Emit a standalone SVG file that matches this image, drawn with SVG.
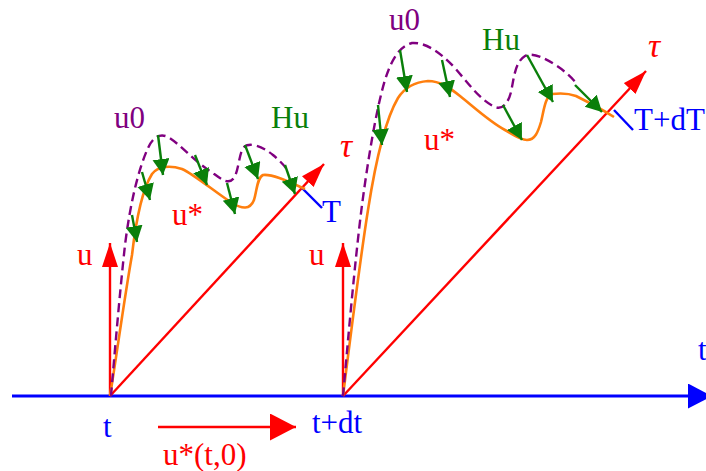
<svg xmlns="http://www.w3.org/2000/svg" width="706" height="471" viewBox="0 0 706 471">
<style>
text{font-family:"Liberation Serif","Times New Roman",serif;font-size:31px}
.red{fill:#ff0000}.blue{fill:#0000ff}.pur{fill:#800080}.grn{fill:#0a7f0a}
.tau{font-size:34px;font-style:italic}
.ax{stroke:#0000ff;stroke-width:2.8;fill:none}
.rl{stroke:#ff0000;stroke-width:2.4;fill:none}
.tick{stroke:#0000ff;stroke-width:2.4;fill:none}
.ustar{stroke:#ff7f0e;stroke-width:2.6;fill:none;stroke-linejoin:round}
.u0{stroke:#800080;stroke-width:2.4;fill:none;stroke-dasharray:9,5}
.ga{stroke:#0a7f0a;stroke-width:2.4;fill:none}
</style>
<defs>
<marker id="hb" markerUnits="userSpaceOnUse" markerWidth="26" markerHeight="26" refX="24" refY="12.5" orient="auto"><path d="M0,0 L24,12.5 L0,25 Z" fill="#0000ff"/></marker>
<marker id="hr" markerUnits="userSpaceOnUse" markerWidth="26" markerHeight="18" refX="24" refY="8" orient="auto"><path d="M0,0 L24,8 L0,16 Z" fill="#ff0000"/></marker>
<marker id="hrb" markerUnits="userSpaceOnUse" markerWidth="28" markerHeight="30" refX="26" refY="13.5" orient="auto"><path d="M0,0 L26,13.5 L0,27 Z" fill="#ff0000"/></marker>
<marker id="hg" markerUnits="userSpaceOnUse" markerWidth="18" markerHeight="18" refX="16" refY="8.5" orient="auto"><path d="M0,0 L16,8.5 L0,17 Z" fill="#0a7f0a"/></marker>
</defs>
<g id="connectors">
<line id="time-axis" class="ax" x1="12" y1="396" x2="712" y2="396" marker-end="url(#hb)"/>
<line class="rl" x1="110" y1="396" x2="110" y2="243" marker-end="url(#hr)"/>
<line class="rl" x1="343" y1="396" x2="343" y2="243" marker-end="url(#hr)"/>
<line class="rl" x1="110" y1="396" x2="324" y2="164" marker-end="url(#hr)"/>
<line class="rl" x1="343" y1="396" x2="646" y2="71" marker-end="url(#hr)"/>
<line class="rl" x1="158" y1="427" x2="296" y2="427" marker-end="url(#hrb)"/>
<line class="tick" x1="301" y1="187" x2="322" y2="208"/>
<line class="tick" x1="614" y1="110" x2="633" y2="130"/>
</g>
<g id="curve-ustar-1"><path class="ustar" d="M110,396 C116,360 124,300 132,255 C136,220 142,190 152,174 C158,166 170,165 182,169 C195,175 215,192 232,203 C242,209 250,210 254,200 C257,190 257,178 263,175 C272,174 285,180 305,189"/></g>
<g id="curve-u0-1"><path class="u0" d="M111,396 C114,360 120,290 125,245 C130,205 138,170 148,148 C153,137 160,133 168,137 C180,144 195,162 210,171 C220,178 228,186 234,178 C239,170 239,152 244,147 C250,142 262,146 273,155 C280,161 285,166 288,171"/></g>
<g id="curve-ustar-2"><path class="ustar" d="M343,396 C350,340 360,260 368,210 C375,165 385,120 398,98 C405,87 415,82 428,81 C440,81 450,88 460,96 C475,108 490,122 505,130 C512,134 520,140 527,140 C535,140 538,132 541,122 C544,110 545,97 552,94 C560,93 568,93 576,96 C590,103 603,110 614,117"/></g>
<g id="curve-u0-2"><path class="u0" d="M343,396 C348,340 355,260 362,205 C368,160 376,110 385,80 C392,58 400,46 412,43 C425,42 440,52 455,68 C468,83 480,100 495,107 C502,110 508,104 511,92 C514,78 515,62 525,56 C532,52 545,58 557,66 C566,72 572,78 577,84"/></g>
<g id="gradient-arrows">
<line class="ga" x1="132" y1="215" x2="137" y2="242" marker-end="url(#hg)"/>
<line class="ga" x1="142" y1="172" x2="150" y2="200" marker-end="url(#hg)"/>
<line class="ga" x1="158" y1="135" x2="163" y2="175" marker-end="url(#hg)"/>
<line class="ga" x1="195" y1="155" x2="207" y2="185" marker-end="url(#hg)"/>
<line class="ga" x1="227" y1="183" x2="235" y2="214" marker-end="url(#hg)"/>
<line class="ga" x1="245" y1="145" x2="258" y2="179" marker-end="url(#hg)"/>
<line class="ga" x1="285" y1="165" x2="295" y2="194" marker-end="url(#hg)"/>
<line class="ga" x1="378" y1="105" x2="382" y2="145" marker-end="url(#hg)"/>
<line class="ga" x1="400" y1="50" x2="407" y2="92" marker-end="url(#hg)"/>
<line class="ga" x1="442" y1="60" x2="450" y2="97" marker-end="url(#hg)"/>
<line class="ga" x1="503" y1="105" x2="522" y2="140" marker-end="url(#hg)"/>
<line class="ga" x1="527" y1="55" x2="553" y2="102" marker-end="url(#hg)"/>
<line class="ga" x1="575" y1="85" x2="602" y2="112" marker-end="url(#hg)"/>
</g>
<g id="labels">
<text class="pur" x="114" y="128">u0</text>
<text class="pur" x="389" y="30">u0</text>
<text class="grn" x="271" y="128">Hu</text>
<text class="grn" x="482" y="50">Hu</text>
<text class="red" x="172" y="225">u*</text>
<text class="red" x="424" y="150">u*</text>
<text class="red tau" x="340" y="157">τ</text>
<text class="red tau" x="648" y="57">τ</text>
<text class="blue" x="322" y="222">T</text>
<text class="blue" x="634" y="130">T+dT</text>
<text class="red" x="77" y="265">u</text>
<text class="red" x="309" y="265">u</text>
<text class="blue" x="103" y="437">t</text>
<text class="blue" x="312" y="433">t+dt</text>
<text class="blue" x="698" y="360">t</text>
<text class="red" x="163" y="465">u*(t,0)</text>
</g>
</svg>
